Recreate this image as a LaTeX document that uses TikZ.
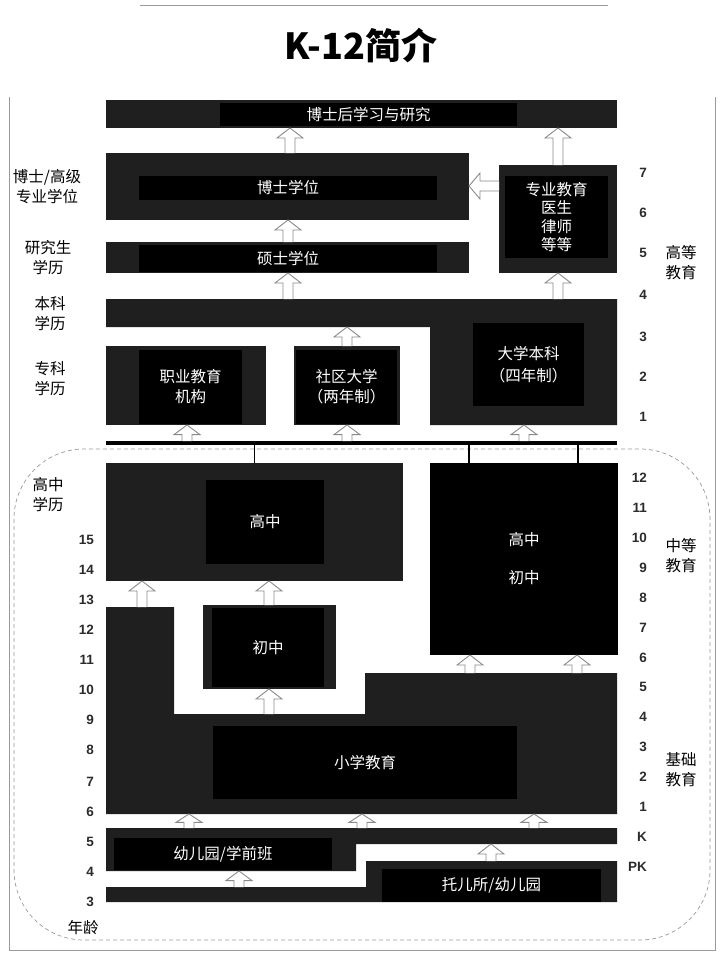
\documentclass[tikz,border=0pt]{standalone}
\usepackage{fontspec}
\setmainfont{Liberation Sans}
\newfontfamily\cjk{Noto Sans CJK SC}
\usetikzlibrary{calc}
\definecolor{dg}{HTML}{1F1F1F}
\definecolor{arrgray}{HTML}{8A8A8A}
\definecolor{numgray}{HTML}{2B2B2B}
\definecolor{framegray}{HTML}{9A9A9A}

\tikzset{
  obox/.style={fill=dg, draw=none, inner sep=0pt, outer sep=0pt, anchor=north west},
  ibox/.style={fill=black, draw=none, inner sep=0pt, outer sep=0pt, anchor=north west,
    text=white, align=center, font=\cjk\fontsize{15.5}{20}\selectfont},
  barrow/.style={fill=white, draw=arrgray, line width=0.9pt, line join=miter},
  num/.style={font=\bfseries\fontsize{13.5}{16}\selectfont, text=numgray, anchor=east, inner sep=0pt},
  lab/.style={font=\cjk\fontsize{15.5}{20}\selectfont, align=center, inner sep=0pt},
}

% vertical hollow block arrow at x=#1 (px) from anchor #2 (below) up to anchor #3 (above)
\newcommand\uparr[3]{%
  \draw[barrow] let \p1=(#2), \p2=(#3), \n1={min(10,0.6*(\y2-\y1))} in
    ({#1pt-5pt},{\y1}) -- ({#1pt-5pt},{\y2-\n1*1pt}) -- ({#1pt-13pt},{\y2-\n1*1pt})
    -- ({#1pt},{\y2}) -- ({#1pt+13pt},{\y2-\n1*1pt}) -- ({#1pt+5pt},{\y2-\n1*1pt})
    -- ({#1pt+5pt},{\y1});}
% horizontal hollow block arrow at y=#1 (px) from anchor #2 (right) to anchor #3 (left)
\newcommand\leftarr[3]{%
  \draw[barrow] let \p1=(#2), \p2=(#3) in
    ({\x1},{-#1pt+5pt}) -- ({\x2+11pt},{-#1pt+5pt}) -- ({\x2+11pt},{-#1pt+13pt})
    -- ({\x2},{-#1pt}) -- ({\x2+11pt},{-#1pt-13pt}) -- ({\x2+11pt},{-#1pt-5pt})
    -- ({\x1},{-#1pt-5pt});}

\begin{document}
\begin{tikzpicture}[x=1pt,y=-1pt]
\useasboundingbox (0,0) rectangle (720,954);

% frame and decorations
\draw[framegray, line width=0.8pt] (140,5) -- (608,5);
\draw[framegray, line width=0.8pt] (9,97) -- (9,950) -- (715,950) -- (715,97);
\draw[framegray, line width=0.7pt, dash pattern=on 4pt off 3pt, rounded corners=70pt]
  (14,449) rectangle (710,940);

% title
\node[font=\cjk\bfseries\fontsize{36}{40}\selectfont] (title) at (361,46) {K-12简介};

% ---------- higher education ----------
\node[obox, minimum width=511, minimum height=28] (postdocO) at (106,100) {};
\node[ibox, minimum width=297, minimum height=23] (postdocI) at (220,103) {博士后学习与研究};

\node[obox, minimum width=363, minimum height=67] (phdO) at (106,153) {};
\node[ibox, minimum width=298, minimum height=24] (phdI) at (139,176) {博士学位};

\node[obox, minimum width=118, minimum height=108] (proO) at (499,165) {};
\node[ibox, minimum width=103, minimum height=82, font=\cjk\fontsize{15.5}{18.5}\selectfont] (proI) at (505,176) {专业教育\\医生\\律师\\等等};

\node[obox, minimum width=363, minimum height=31] (msO) at (106,242) {};
\node[ibox, minimum width=298, minimum height=27] (msI) at (139,245) {硕士学位};

\fill[dg] (106,299) -- (617,299) -- (617,425) -- (430,425) -- (430,327) -- (106,327) -- cycle;
\coordinate (bachT) at (361,299);
\coordinate (bachL) at (268,327);
\coordinate (bachB) at (523,425);
\node[ibox, minimum width=111, minimum height=83, font=\cjk\fontsize{15.5}{22}\selectfont] (bachI) at (473,323) {大学本科\\（四年制）};

\node[obox, minimum width=160, minimum height=79] (vocO) at (106,346) {};
\node[ibox, minimum width=103, minimum height=74] (vocI) at (139,350) {职业教育\\机构};

\node[obox, minimum width=106, minimum height=79] (ccO) at (294,346) {};
\node[ibox, minimum width=101, minimum height=74] (ccI) at (296,350) {社区大学\\（两年制）};

\node[fill=black, inner sep=0pt, outer sep=0pt, anchor=north west, minimum width=511, minimum height=4] (bar) at (106,441) {};

% ---------- secondary ----------
\node[obox, minimum width=297, minimum height=118] (hsLO) at (106,463) {};
\node[ibox, minimum width=118, minimum height=84] (hsLI) at (206,480) {高中};

\node[ibox, minimum width=188, minimum height=192, font=\cjk\fontsize{15.5}{38}\selectfont] (hsR) at (430,463) {高中\\初中};

\draw[line width=1.2pt] (bar.south -| hsLO.north) -- (hsLO.north);
\draw[line width=1.2pt] ([xshift=-55pt]hsR.north |- bar.south) -- ([xshift=-55pt]hsR.north);
\draw[line width=1.2pt] ([xshift=54pt]hsR.north |- bar.south) -- ([xshift=54pt]hsR.north);

\node[obox, minimum width=133, minimum height=84] (jhsO) at (203,605) {};
\node[ibox, minimum width=112, minimum height=79] (jhsI) at (212,608) {初中};

% ---------- elementary ----------
\fill[dg] (106,607) -- (174,607) -- (174,714) -- (365,714) -- (365,673) -- (617,673)
  -- (617,814) -- (106,814) -- cycle;
\coordinate (elemL) at (140,607);
\coordinate (elemM) at (270,714);
\coordinate (elemR) at (491,673);
\coordinate (elemB) at (361,814);
\node[ibox, minimum width=304, minimum height=73] (elemI) at (213,726) {小学教育};

% ---------- kindergarten / pre-K ----------
\fill[dg] (106,828) -- (617,828) -- (617,844) -- (356,844) -- (356,871) -- (106,871) -- cycle;
\coordinate (Ktop) at (361,828);
\coordinate (Kbot) at (486,844);
\coordinate (KbotL) at (231,871);
\node[ibox, minimum width=218, minimum height=32] (kinI) at (114,838) {幼儿园/学前班};

\fill[dg] (366,861) -- (617,861) -- (617,902) -- (106,902) -- (106,887) -- (366,887) -- cycle;
\coordinate (PKtop) at (491,861);
\coordinate (PKbar) at (236,887);
\node[ibox, minimum width=219, minimum height=33] (dayI) at (382,869) {托儿所/幼儿园};

% ---------- arrows ----------
\uparr{290}{phdO.north}{postdocO.south}
\uparr{558}{proO.north}{postdocO.south}
\leftarr{186}{proO.west}{phdO.east}
\uparr{288}{msO.north}{phdO.south}
\uparr{288}{bachT}{msO.south}
\uparr{558}{bachT}{proO.south}
\uparr{347}{ccO.north}{bachL}
\uparr{187}{bar.north}{vocO.south}
\uparr{347}{bar.north}{ccO.south}
\uparr{524}{bar.north}{bachB}
\uparr{142}{elemL}{hsLO.south}
\uparr{269}{jhsO.north}{hsLO.south}
\uparr{269}{elemM}{jhsO.south}
\uparr{470}{elemR}{hsR.south}
\uparr{577}{elemR}{hsR.south}
\uparr{189}{Ktop}{elemB}
\uparr{362}{Ktop}{elemB}
\uparr{534}{Ktop}{elemB}
\uparr{491}{PKtop}{Kbot}
\uparr{239}{PKbar}{KbotL}

% ---------- left labels ----------
\node[lab] (l1) at (47,187) {博士/高级\\专业学位};
\node[lab] (l2) at (48,258) {研究生\\学历};
\node[lab] (l3) at (50,314) {本科\\学历};
\node[lab] (l4) at (50,379) {专科\\学历};
\node[lab] (l5) at (48,495) {高中\\学历};
\node[lab] (l6) at (83,928) {年龄};

% ---------- right labels ----------
\node[lab] (r1) at (681,263) {高等\\教育};
\node[lab] (r2) at (681,556) {中等\\教育};
\node[lab] (r3) at (681,770) {基础\\教育};

% ---------- grade numbers (right) ----------
\foreach \t/\y [count=\i] in {7/173,6/213,5/253,4/295,3/337,2/377,1/417,
   12/478,11/508,10/538,9/568,8/598,7/628,6/658,5/687,4/717,3/747,2/777,1/807,K/837,PK/867}
  \node[num] (g\i) at (647,\y) {\t};

% ---------- ages (left) ----------
\foreach \t/\y [count=\i] in {15/540,14/570,13/600,12/630,11/660,10/690,9/720,8/750,
   7/782,6/812,5/842,4/872,3/902}
  \node[num] (a\i) at (94,\y) {\t};
\end{tikzpicture}
\end{document}
